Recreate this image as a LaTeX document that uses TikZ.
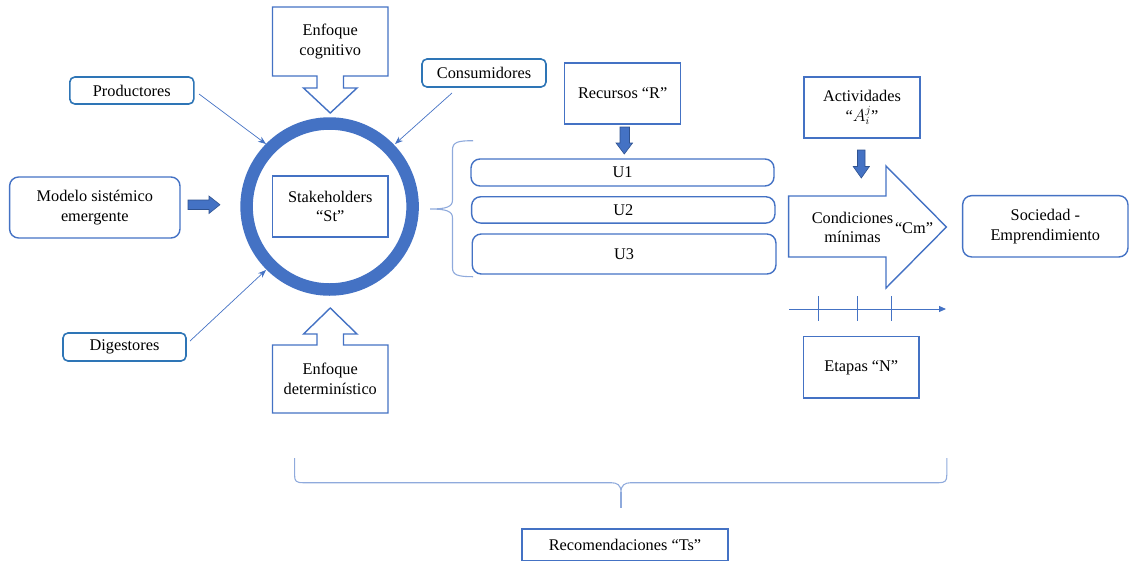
\documentclass[tikz,border=0pt]{standalone}
\usepackage{fontspec}
\setmainfont{Liberation Serif}
\usetikzlibrary{arrows.meta}
\definecolor{boxblue}{HTML}{4472C4}
\definecolor{darkblue}{HTML}{2F528F}
\definecolor{tagblue}{HTML}{2E75B6}
\definecolor{braceblue}{HTML}{8FAADC}
\tikzset{
  base/.style={font=\fontsize{16.3}{19.6}\selectfont, align=center, inner sep=0pt, text=black},
  sqbox/.style={base, draw=boxblue, line width=1.4pt},
  rbox/.style={sqbox, rounded corners=9pt},
  tagbox/.style={base, draw=tagblue, line width=1.6pt, rounded corners=5pt},
  link/.style={draw=boxblue, line width=0.7pt, -{Stealth[length=8pt,width=6pt]}},
  blockarrow/.style={fill=boxblue, draw=darkblue, line width=0.6pt},
  outline/.style={draw=boxblue, line width=1.4pt, fill=white},
  bracepath/.style={draw=braceblue, line width=1.1pt},
}
\begin{document}
\begin{tikzpicture}[x=1pt,y=-1pt]
\useasboundingbox (0,0) rectangle (1129,560);
\clip (0,0) rectangle (1129,560);

% ---- small tag boxes around the ring ----
\node[tagbox, minimum width=124, minimum height=27] (prod) at (131.8,90.5) {Productores};
\node[tagbox, minimum width=124, minimum height=28] (cons) at (484,73) {Consumidores};
\node[tagbox, minimum width=123, minimum height=28] (dig) at (124.5,347) {Digestores};

% ---- the stakeholder ring ----
\coordinate (ring) at (329.6,206.5);
\draw[boxblue, line width=12.5pt] (ring) circle (83);
\node[sqbox, minimum width=115.5, minimum height=61] (stake) at (330.25,206.5) {Stakeholders\\“St”};

% thin connectors into the ring
\coordinate (prodOut) at (199,94);
\coordinate (prodIn) at (266,144);
\coordinate (consOut) at (452,93);
\coordinate (consIn) at (395,144);
\coordinate (digOut) at (190,341);
\coordinate (digIn) at (266,270);
\draw[link] (prodOut) -- (prodIn);
\draw[link] (consOut) -- (consIn);
\draw[link] (digOut) -- (digIn);

% ---- callout: cognitive approach (points down) ----
\draw[outline] (272.5,7) -- (388,7) -- (388,76) -- (343.5,76) -- (343.5,88) -- (357,88)
  -- (330.25,113) -- (303.5,88) -- (317,88) -- (317,76) -- (272.5,76) -- cycle;
\node[base] (cog) at (330.25,41.5) {Enfoque\\cognitivo};

% ---- callout: deterministic approach (points up) ----
\draw[outline] (272.5,413) -- (388,413) -- (388,345) -- (343.5,345) -- (343.5,334) -- (357,334)
  -- (330.25,308) -- (303.5,334) -- (317,334) -- (317,345) -- (272.5,345) -- cycle;
\node[base] (det) at (330.25,379) {Enfoque\\determinístico};

% ---- emergent systemic model ----
\node[rbox, minimum width=170.4, minimum height=61] (model) at (94.8,207.5) {Modelo sistémico\\emergente};
\draw[blockarrow] (188,200) -- (209,200) -- (209,196) -- (220,204.7) -- (209,213.5) -- (209,209.5) -- (188,209.5) -- cycle;

% ---- units U1..U3 with brace ----
\node[rbox, minimum width=303, minimum height=27] (u1) at (622.5,172.5) {U1};
\node[rbox, minimum width=303.3, minimum height=26.3] (u2) at (623.3,209.9) {U2};
\node[rbox, minimum width=303.7, minimum height=40] (u3) at (624.1,254) {U3};
\draw[bracepath] (473,140.7) .. controls (458,140.7) and (452.5,142) .. (452.5,150)
  -- (452.5,200) .. controls (452.5,207) and (446,209) .. (430,209)
  .. controls (446,209) and (452.5,211) .. (452.5,218)
  -- (452.5,268) .. controls (452.5,275) and (458,276.7) .. (473,276.7);

% ---- resources ----
\node[sqbox, minimum width=116, minimum height=61] (rec) at (622.7,93.5) {Recursos “R”};
\draw[blockarrow] (620,127) -- (629.5,127) -- (629.5,143) -- (632.6,143) -- (624.3,154)
  -- (616,143) -- (620,143) -- cycle;

% ---- activities ----
\node[sqbox, minimum width=116, minimum height=61] (act) at (862,107.5) {Actividades\\“$A_i^j$”};
\draw[blockarrow] (857.5,150) -- (865,150) -- (865,166.5) -- (869.4,166.5) -- (861.3,178)
  -- (853.2,166.5) -- (857.5,166.5) -- cycle;

% ---- minimum conditions (big arrow) ----
\draw[outline] (788.6,196) -- (886,196) -- (886,166) -- (946.4,227) -- (886,288)
  -- (886,257) -- (788.6,257) -- cycle;
\node[base] (cond) at (852.5,227.5) {Condiciones\\mínimas};
\node[base] (cm) at (914,228) {“Cm”};

% ---- society ----
\node[rbox, minimum width=165.3, minimum height=61.3] (soc) at (1045.3,226.3) {Sociedad -\\Emprendimiento};

% ---- stages timeline ----
\coordinate (tl0) at (789,309);
\coordinate (tl1) at (946,309);
\draw[boxblue, line width=1pt, -{Triangle[length=7pt,width=6pt]}] (tl0) -- (tl1);
\foreach \t in {818.7,857.5,891.6}
  \draw[boxblue, line width=1pt] (\t,296) -- (\t,321);
\node[sqbox, minimum width=115.5, minimum height=61.3] (etapas) at (861.3,367.3) {Etapas “N”};

% ---- recommendations with bottom brace ----
\draw[bracepath] (294.6,458) -- (294.6,475) .. controls (294.6,481) and (296,482.7) .. (303,482.7)
  -- (611,482.7) .. controls (617,482.7) and (621,485) .. (621,492)
  .. controls (621,485) and (625,482.7) .. (631,482.7)
  -- (939,482.7) .. controls (945,482.7) and (946.8,481) .. (946.8,475) -- (946.8,458);
\draw[bracepath] (621,492) -- (621,507.7);
\node[sqbox, minimum width=206, minimum height=32] (recom) at (625,545) {Recomendaciones “Ts”};
\end{tikzpicture}
\end{document}
